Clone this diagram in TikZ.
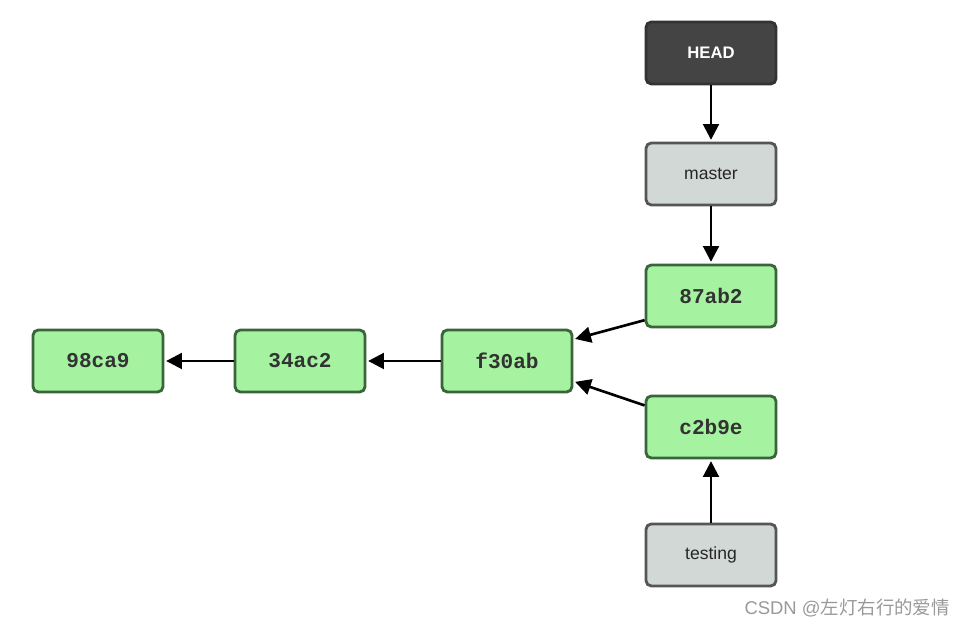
\documentclass[tikz,border=0pt]{standalone}
\usepackage{fontspec}
\setsansfont{Liberation Sans}
\setmonofont{Liberation Mono}
\newfontfamily\cjk{Noto Sans CJK SC}
\usetikzlibrary{arrows.meta}
\definecolor{commitfill}{RGB}{165,243,160}
\definecolor{commitdraw}{RGB}{58,100,58}
\definecolor{branchfill}{RGB}{210,216,214}
\definecolor{branchdraw}{RGB}{85,85,85}
\definecolor{headfill}{RGB}{68,68,68}
\tikzstyle{box} = [rectangle, rounded corners=3pt, line width=1.6pt, minimum width=2.6cm, minimum height=1.24cm, inner sep=0pt]
\tikzstyle{commit} = [box, fill=commitfill, draw=commitdraw, font=\ttfamily\bfseries\fontsize{12}{12}\selectfont, text=black!80]
\tikzstyle{branch} = [box, fill=branchfill, draw=branchdraw, font=\sffamily\fontsize{10}{10}\selectfont, text=black!85]
\tikzstyle{head} = [box, fill=headfill, draw=black!80, font=\sffamily\bfseries\fontsize{9.5}{9.5}\selectfont, text=white]
\tikzstyle{ptr} = [line width=1.5pt, -{Triangle[length=9pt,width=9pt]}, shorten >=1pt]

\begin{document}
\begin{tikzpicture}[x=0.02cm, y=0.02cm]
			\useasboundingbox (0,0) rectangle (971,628);
			\node [head] (HEAD) at (711,575) {HEAD};
			\node [branch] (master) at (711,454) {master};
			\node [commit] (87ab2) at (711,332) {87ab2};
			\node [commit] (c2b9e) at (711,201) {c2b9e};
			\node [branch] (testing) at (711,73) {testing};
			\node [commit] (f30ab) at (507,267) {f30ab};
			\node [commit] (34ac2) at (300,267) {34ac2};
			\node [commit] (98ca9) at (98,267) {98ca9};
			\draw [ptr] (HEAD) -- (master);
			\draw [ptr] (master) -- (87ab2);
			\draw [ptr] (testing) -- (c2b9e);
			\draw [ptr] (87ab2.200) -- (f30ab.18);
			\draw [ptr] (c2b9e.162) -- (f30ab.343);
			\draw [ptr] (f30ab) -- (34ac2);
			\draw [ptr] (34ac2) -- (98ca9);
			\node [anchor=east, text=black!40, font=\fontsize{10.5}{10.5}\selectfont] (wm) at (956,20) {\sffamily CSDN @\cjk 左灯右行的爱情};
		\end{tikzpicture}
\end{document}
